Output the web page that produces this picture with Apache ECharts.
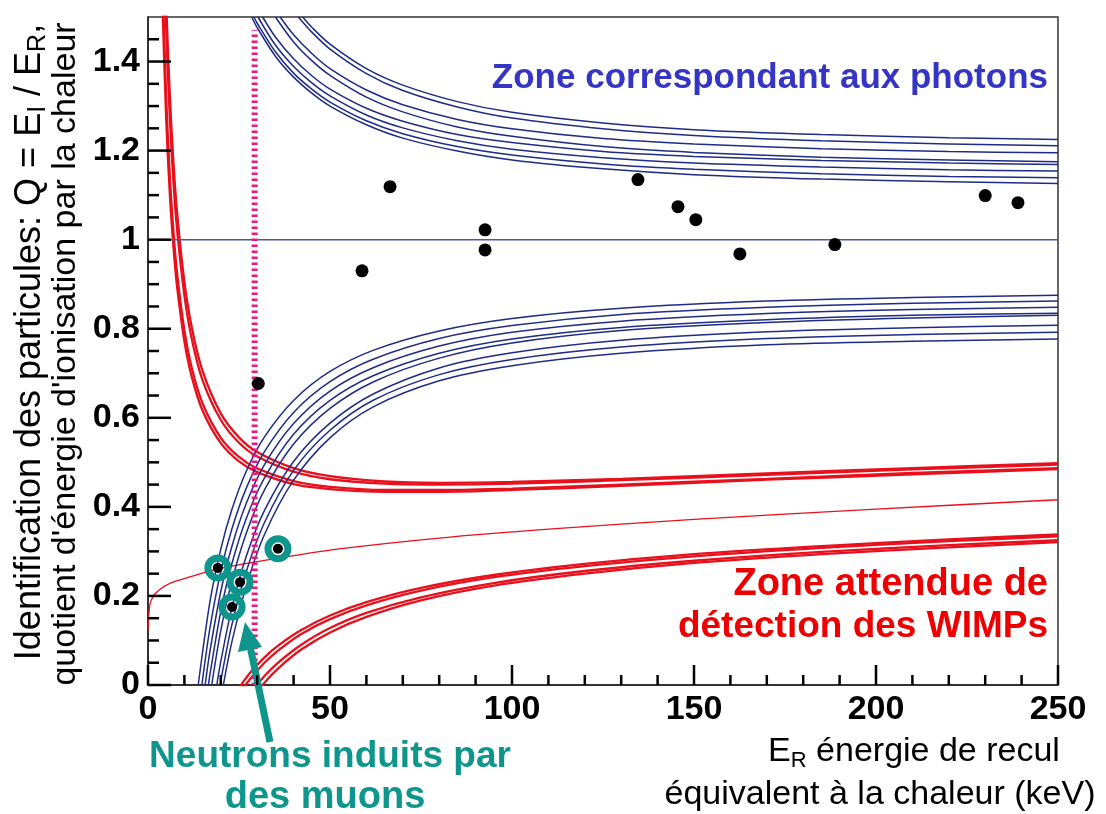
<!DOCTYPE html>
<html><head><meta charset="utf-8">
<script src="https://cdn.jsdelivr.net/npm/echarts@6/dist/echarts.min.js"></script>
<style>html,body{margin:0;padding:0;background:#fff}#c{width:1106px;height:814px}</style>
</head><body><div id="c"></div>
<script>
// ---------- data ----------
// upper limits of the gamma (photon) band, one curve per detector: [E_R, Q]
const gammaUpper = [
 [[42.5,1.5],[45,1.477],[50,1.439],[60,1.384],[70,1.347],[85,1.310],[100,1.286],[125,1.262],[150,1.247],[185,1.236],[220,1.229],[250,1.225]],
 [[41.3,1.5],[45,1.466],[50,1.428],[60,1.373],[70,1.335],[85,1.298],[100,1.273],[125,1.249],[150,1.234],[185,1.222],[220,1.215],[250,1.211]],
 [[36.3,1.5],[40,1.460],[45,1.418],[50,1.384],[60,1.336],[70,1.303],[85,1.270],[100,1.249],[125,1.227],[150,1.215],[185,1.204],[220,1.198],[250,1.195]],
 [[35,1.5],[40,1.444],[45,1.402],[50,1.369],[60,1.320],[70,1.287],[85,1.253],[100,1.232],[125,1.209],[150,1.196],[185,1.185],[220,1.179],[250,1.175]],
 [[31.5,1.5],[35,1.455],[40,1.406],[45,1.368],[50,1.338],[60,1.295],[70,1.266],[85,1.236],[100,1.218],[125,1.198],[150,1.187],[185,1.178],[220,1.172],[250,1.169]],
 [[30.2,1.5],[35,1.437],[40,1.389],[45,1.352],[50,1.323],[60,1.280],[70,1.251],[85,1.222],[100,1.203],[125,1.184],[150,1.172],[185,1.163],[220,1.157],[250,1.154]],
 [[29.1,1.5],[30,1.486],[35,1.422],[40,1.374],[45,1.338],[50,1.309],[60,1.267],[70,1.238],[85,1.209],[100,1.190],[125,1.170],[150,1.158],[185,1.148],[220,1.142],[250,1.139]],
 [[28.5,1.5],[30,1.476],[35,1.412],[40,1.365],[45,1.329],[50,1.300],[60,1.258],[70,1.228],[85,1.199],[100,1.179],[125,1.159],[150,1.146],[185,1.136],[220,1.130],[250,1.126]]
];
// lower limits of the gamma band
const gammaLower = [
 [[13.8,0],[17,0.186],[20,0.305],[23,0.393],[27,0.480],[32,0.557],[40,0.639],[50,0.704],[62,0.752],[80,0.795],[100,0.823],[130,0.846],[170,0.862],[210,0.870],[250,0.875]],
 [[14.8,0],[17,0.127],[20,0.255],[23,0.349],[27,0.442],[32,0.524],[40,0.612],[50,0.681],[62,0.732],[80,0.778],[100,0.807],[130,0.832],[170,0.848],[210,0.857],[250,0.862]],
 [[15.7,0],[17,0.075],[20,0.210],[23,0.310],[27,0.408],[32,0.495],[40,0.587],[50,0.660],[62,0.713],[80,0.761],[100,0.792],[130,0.817],[170,0.834],[210,0.843],[250,0.848]],
 [[16.6,0],[17,0.023],[20,0.166],[23,0.271],[27,0.374],[32,0.465],[40,0.563],[50,0.639],[62,0.695],[80,0.745],[100,0.777],[130,0.803],[170,0.820],[210,0.830],[250,0.835]],
 [[17.5,0],[20,0.122],[23,0.232],[27,0.341],[32,0.438],[40,0.541],[50,0.621],[62,0.681],[80,0.734],[100,0.768],[130,0.796],[170,0.814],[210,0.824],[250,0.830]],
 [[18.9,0],[20,0.053],[23,0.172],[27,0.289],[32,0.392],[40,0.502],[50,0.588],[62,0.654],[80,0.712],[100,0.746],[130,0.774],[170,0.793],[210,0.802],[250,0.808]],
 [[19.8,0],[23,0.134],[27,0.255],[32,0.365],[40,0.482],[50,0.572],[62,0.640],[80,0.697],[100,0.731],[130,0.759],[170,0.778],[210,0.787],[250,0.792]],
 [[20.7,0],[23,0.095],[27,0.222],[32,0.338],[40,0.460],[50,0.555],[62,0.625],[80,0.683],[100,0.717],[130,0.745],[170,0.764],[210,0.772],[250,0.777]]
];
// upper limits of the nuclear-recoil band
const recoilUpperX = [3.5,4,5,6,7,8,10,12,15,20,25,30,40,50,65,80,100,130,170,210,250];
const recoilUpperQ = [
 [1.710,1.526,1.271,1.102,0.983,0.894,0.772,0.693,0.616,0.543,0.502,0.478,0.451,0.440,0.434,0.434,0.438,0.447,0.461,0.473,0.485],
 [1.778,1.586,1.319,1.142,1.017,0.924,0.797,0.713,0.632,0.555,0.512,0.486,0.458,0.445,0.438,0.438,0.441,0.450,0.463,0.476,0.487],
 [2.001,1.781,1.475,1.273,1.129,1.022,0.875,0.778,0.684,0.595,0.544,0.513,0.479,0.462,0.452,0.450,0.452,0.460,0.472,0.484,0.495],
 [2.087,1.856,1.535,1.323,1.172,1.060,0.905,0.804,0.705,0.610,0.556,0.523,0.487,0.469,0.457,0.454,0.456,0.463,0.475,0.487,0.498]
];
// lower limits of the nuclear-recoil band
const recoilLowerX = [22,25,28,32,36,42,50,60,75,95,120,150,185,220,250];
const recoilLowerQ = [
 [-0.049,-0.007,0.027,0.062,0.090,0.123,0.156,0.186,0.218,0.247,0.272,0.294,0.312,0.327,0.338],
 [-0.066,-0.022,0.013,0.050,0.079,0.114,0.148,0.179,0.212,0.242,0.267,0.289,0.308,0.323,0.334],
 [-0.108,-0.060,-0.021,0.020,0.052,0.090,0.128,0.162,0.197,0.229,0.256,0.279,0.299,0.314,0.325],
 [-0.129,-0.079,-0.038,0.005,0.039,0.079,0.118,0.153,0.190,0.223,0.250,0.274,0.294,0.309,0.321]
];
// mean nuclear-recoil quenching curve
const recoilMeanX = [0.05,0.5,1.5,3,6,11.5,20,36,53,80,110,150,200,250];
const recoilMeanQ = [0.125,0.18,0.2,0.213,0.228,0.243,0.262,0.285,0.306,0.33,0.35,0.372,0.395,0.416];
// gamma mean line and analysis threshold
const gammaMeanQ = 1;
const axisRangeX = [0, 250];
const thresholdE = 29.3;
const thresholdQ = [0, 1.47];
// events
const eventsE = [30.3, 58.8, 66.5, 92.6, 92.6, 134.6, 145.6, 150.5, 162.6, 188.7, 230, 239];
const eventsQ = [0.677, 0.930, 1.119, 1.022, 0.977, 1.135, 1.074, 1.045, 0.968, 0.989, 1.099, 1.083];
const neutronE = [19.2, 25.3, 23.1, 35.7];
const neutronQ = [0.263, 0.231, 0.175, 0.306];
// axis ticks
const xMajorTicks = [0, 50, 100, 150, 200, 250];
const xMinorTicks = [10, 20, 30, 40, 60, 70, 80, 90, 110, 120, 130, 140, 160, 170, 180, 190, 210, 220, 230, 240];
const yMajorTicks = [0, 0.2, 0.4, 0.6, 0.8, 1.0, 1.2, 1.4];
const yMinorTicks = [0.05, 0.1, 0.15, 0.25, 0.3, 0.35, 0.45, 0.5, 0.55, 0.65, 0.7, 0.75, 0.85, 0.9, 0.95,
                     1.05, 1.1, 1.15, 1.25, 1.3, 1.35, 1.45];

// ---------- chart ----------
const BLUE = '#1e2c86', RED = '#e8101c', TEAL = '#0e968c', FONT = 'Liberation Sans, Arial, sans-serif';
const TICK = '#000';
const zip = (xs, ys) => xs.map((x, i) => [x, ys[i]]);
const series = [];
function curve(data, color, width, z, smooth) {
  series.push({type: 'line', data, smooth: smooth === undefined ? 0.3 : smooth, symbol: 'none', silent: true, z,
    lineStyle: {color, width, opacity: 1}, clip: true});
}
recoilUpperQ.forEach(q => curve(zip(recoilUpperX, q), RED, 2.3, 2));
recoilLowerQ.forEach(q => curve(zip(recoilLowerX, q), RED, 2.3, 2));
curve(zip(recoilMeanX, recoilMeanQ), RED, 1.3, 2);
gammaUpper.forEach(c => curve(c, BLUE, 1.5, 3));
gammaLower.forEach(c => curve(c, BLUE, 1.5, 3));
curve(axisRangeX.map(x => [x, gammaMeanQ]), '#4658a8', 1.5, 3, false);
series.push({type: 'line', data: thresholdQ.map(q => [thresholdE, q]), symbol: 'none', silent: true, z: 4,
  lineStyle: {color: '#e8187f', width: 6, type: [2.5, 3.5], opacity: 1}});
series.push({type: 'scatter', data: zip(eventsE, eventsQ), symbol: 'circle', symbolSize: 13, z: 5, silent: true,
  itemStyle: {color: '#000', opacity: 1}});
series.push({type: 'scatter', data: zip(neutronE, neutronQ), symbol: 'circle', symbolSize: 10, z: 5, silent: true,
  itemStyle: {color: '#000', opacity: 1}});
series.push({type: 'scatter', data: zip(neutronE, neutronQ), symbol: 'circle', symbolSize: 20, z: 6, silent: true,
  itemStyle: {color: 'rgba(0,0,0,0)', borderColor: TEAL, borderWidth: 7, opacity: 1}});

const axisCommon = {
  type: 'value',
  axisLine: {show: true, lineStyle: {color: '#222', width: 1.5}},
  axisTick: {show: false},
  minorTick: {show: false},
  splitLine: {show: false},
  axisLabel: {fontSize: 34, fontWeight: 'bold', color: '#000', fontFamily: FONT, margin: 8}
};
const option = {
  animation: false,
  backgroundColor: '#fff',
  grid: {left: 148, top: 17, width: 910, height: 668, show: true, borderColor: '#333', borderWidth: 1.5},
  xAxis: Object.assign({}, axisCommon, {min: 0, max: 250, interval: 50}),
  yAxis: Object.assign({}, axisCommon, {
    min: 0, max: 1.5, interval: 0.2,
    axisLabel: Object.assign({}, axisCommon.axisLabel, {
      formatter: v => (v > 1.45 ? '' : String(Math.round(v * 10) / 10))
    })
  }),
  series,
  graphic: [
    {type: 'text', x: 30, y: 342, rotation: Math.PI / 2, z: 10,
      style: {text: 'Identification des particules: Q = E{sub|I} / E{sub|R},', fontSize: 36, fontFamily: FONT, fill: '#000',
        align: 'center', verticalAlign: 'middle', lineHeight: 42,
        rich: {sub: {fontSize: 25, lineHeight: 24, verticalAlign: 'bottom', fontFamily: FONT, fill: '#000'}}}},
    {type: 'text', x: 66, y: 354, rotation: Math.PI / 2, z: 10,
      style: {text: "quotient d'énergie d'ionisation par la chaleur", fontSize: 34, fontFamily: FONT, fill: '#000',
        align: 'center', verticalAlign: 'middle'}},
    {type: 'text', x: 914, y: 752, z: 10,
      style: {text: 'E{sub|R} énergie de recul', fontSize: 34, fontFamily: FONT, fill: '#000',
        align: 'center', verticalAlign: 'middle', lineHeight: 40,
        rich: {sub: {fontSize: 22, lineHeight: 22, verticalAlign: 'bottom', fontFamily: FONT, fill: '#000'}}}},
    {type: 'text', x: 880, y: 795, z: 10,
      style: {text: 'équivalent à la chaleur (keV)', fontSize: 34, fontFamily: FONT, fill: '#000',
        align: 'center', verticalAlign: 'middle'}},
    {type: 'text', x: 1048, y: 78, z: 10,
      style: {text: 'Zone correspondant aux photons', fontSize: 35, fontWeight: 'bold', fontFamily: FONT, fill: '#3535c5',
        align: 'right', verticalAlign: 'middle'}},
    {type: 'text', x: 1048, y: 585, z: 10,
      style: {text: 'Zone attendue de', fontSize: 38, fontWeight: 'bold', fontFamily: FONT, fill: '#ee0000',
        align: 'right', verticalAlign: 'middle'}},
    {type: 'text', x: 1048, y: 627, z: 10,
      style: {text: 'détection des WIMPs', fontSize: 37, fontWeight: 'bold', fontFamily: FONT, fill: '#ee0000',
        align: 'right', verticalAlign: 'middle'}},
    {type: 'text', x: 330, y: 757, z: 10,
      style: {text: 'Neutrons induits par', fontSize: 37, fontWeight: 'bold', fontFamily: FONT, fill: TEAL,
        align: 'center', verticalAlign: 'middle'}},
    {type: 'text', x: 325, y: 798, z: 10,
      style: {text: 'des muons', fontSize: 38, fontWeight: 'bold', fontFamily: FONT, fill: TEAL,
        align: 'center', verticalAlign: 'middle'}},
    {type: 'line', z: 10, shape: {x1: 270, y1: 742, x2: 250, y2: 646}, style: {stroke: TEAL, lineWidth: 7}},
    {type: 'polygon', z: 10, shape: {points: [[245, 622], [262, 647], [238, 652]]}, style: {fill: TEAL}}
  ]
};
const chart = echarts.init(document.getElementById('c'), null, {renderer: 'canvas'});
chart.setOption(option);

// tick marks placed through the axes' own scale (convertToPixel), drawn as graphic rectangles
const ticks = [];
function addTick(coord, len, vertical) {
  const p = chart.convertToPixel({gridIndex: 0}, coord);
  const w = 2.5;
  ticks.push({type: 'rect', z: 20, silent: true,
    shape: vertical ? {x: p[0] - w / 2, y: p[1] - len, width: w, height: len}
                    : {x: p[0], y: p[1] - w / 2, width: len, height: w},
    style: {fill: TICK}});
}
xMajorTicks.forEach(v => addTick([v, 0], 20, true));
xMinorTicks.forEach(v => addTick([v, 0], 10, true));
yMajorTicks.forEach(v => addTick([0, v], 23, false));
yMinorTicks.forEach(v => addTick([0, v], 11, false));
chart.setOption({graphic: option.graphic.concat(ticks)});
</script></body></html>
